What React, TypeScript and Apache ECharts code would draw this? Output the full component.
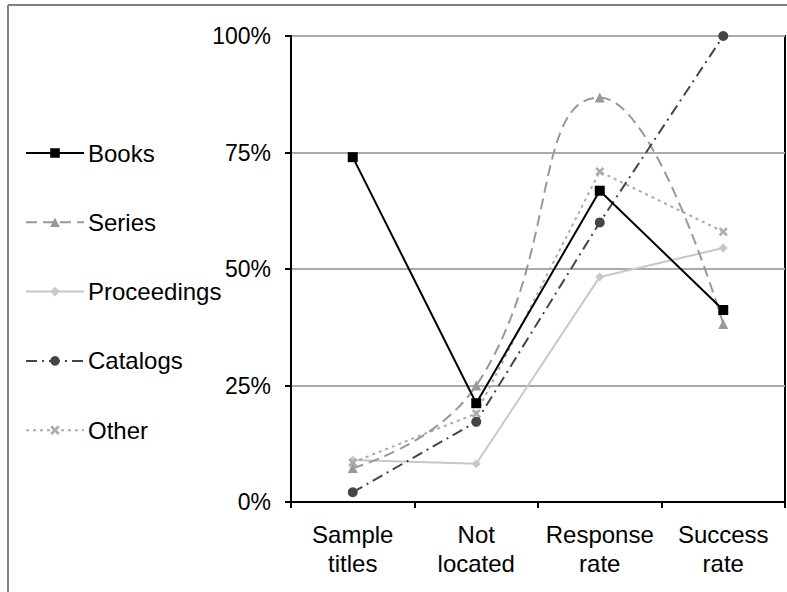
import React, { useEffect, useRef } from "react";
import * as echarts from "echarts";

const categories = ["Sample\ntitles", "Not\nlocated", "Response\nrate", "Success\nrate"];
const yTicks = [0, 25, 50, 75, 100];
const books = [74, 21.2, 66.8, 41.2];
const seriesVals = [7.3, 25, 86.8, 38.2];
const proceedings = [9, 8.2, 48.3, 54.5];
const catalogs = [2.1, 17.2, 60, 100];
const other = [8.5, 19, 70.9, 58];

const FONT = "Liberation Sans, Arial, Helvetica, sans-serif";
const XMARK = "path://M2,0 L5,3 L8,0 L10,2 L7,5 L10,8 L8,10 L5,7 L2,10 L0,8 L3,5 L0,2 Z";

export default function App() {
  const ref = useRef<HTMLDivElement>(null);
  useEffect(() => {
    if (!ref.current) return;
    const chart = echarts.init(ref.current, undefined, { renderer: "svg" });
    const mk = (name: string, data: number[], color: string, type: any, symbol: string, size: number, smooth: boolean | number = false, width = 2) => ({
      name,
      type: "line",
      data,
      smooth,
      clip: false,
      symbol,
      symbolSize: size,
      showSymbol: true,
      lineStyle: { color, width, type },
      itemStyle: { color, borderWidth: 0 },
      emphasis: { disabled: true },
    });
    chart.setOption({
      animation: false,
      backgroundColor: "#fff",
      textStyle: { fontFamily: FONT },
      grid: { left: 291, right: 2, top: 36, bottom: 90, show: true, borderColor: "#000", borderWidth: 2, backgroundColor: "transparent" },
      legend: {
        orient: "vertical",
        left: 25,
        top: 141,
        padding: 0,
        itemWidth: 58,
        itemHeight: 12,
        itemGap: 45.3,
        textStyle: { fontSize: 24, color: "#000", fontFamily: FONT, lineHeight: 23, padding: [0, 0, 0, -1] },
        data: ["Books", "Series", "Proceedings", "Catalogs", "Other"],
      },
      xAxis: {
        type: "category",
        data: categories,
        boundaryGap: true,
        axisLine: { lineStyle: { color: "#000", width: 2 } },
        axisTick: { show: true, interval: 0, length: 6, lineStyle: { color: "#000", width: 2 } },
        axisLabel: { fontSize: 24, color: "#000", lineHeight: 29, margin: 18, interval: 0, fontFamily: FONT },
        splitLine: { show: false },
      },
      yAxis: {
        type: "value",
        min: yTicks[0],
        max: yTicks[yTicks.length - 1],
        interval: 25,
        axisLine: { show: true, lineStyle: { color: "#000", width: 2 } },
        axisTick: { show: true, length: 6, lineStyle: { color: "#000", width: 2 } },
        axisLabel: { fontSize: 23, color: "#000", margin: 20, formatter: "{value}%", fontFamily: FONT },
        splitLine: { show: true, lineStyle: { color: "#aaaaaa", width: 2 } },
      },
      series: [
        mk("Proceedings", proceedings, "#c8c8c8", "solid", "diamond", 9),
        mk("Other", other, "#ababab", [3, 4], XMARK, 9),
        mk("Series", seriesVals, "#999999", [11, 6], "triangle", 10, 0.5),
        mk("Catalogs", catalogs, "#454545", [11, 5, 2, 5], "circle", 10),
        mk("Books", books, "#000000", "solid", "rect", 10),
      ],
      graphic: [
        { type: "line", shape: { x1: 8, y1: 5, x2: 787, y2: 5 }, style: { stroke: "#808080", lineWidth: 2 } },
        { type: "line", shape: { x1: 8, y1: 5, x2: 8, y2: 592 }, style: { stroke: "#808080", lineWidth: 2 } },
      ],
    });
    return () => chart.dispose();
  }, []);
  return <div ref={ref} style={{ position: "fixed", left: 0, top: 0, width: 787, height: 592 }} />;
}
